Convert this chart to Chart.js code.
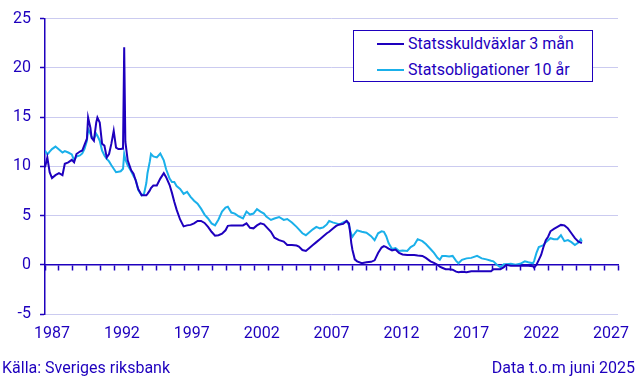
<!DOCTYPE html>
<html><head><meta charset="utf-8">
<script src="https://cdn.jsdelivr.net/npm/chart.js@4.4.1/dist/chart.umd.min.js"></script>
<style>
html,body{margin:0;padding:0;background:#fff;}
#wrap{position:relative;width:644px;height:378px;font-family:Roboto,sans-serif;color:#1E00BE;overflow:hidden;}
#c{position:absolute;left:0;top:0;}
.foot{position:absolute;font-size:16px;line-height:19px;top:358px;white-space:nowrap;}
#legend{position:absolute;left:353px;top:30px;width:238px;height:50px;border:1px solid #1E00BE;background:#fff;}
.row{position:absolute;left:0;height:19px;width:238px;}
.sw{position:absolute;left:23px;width:27px;height:2px;}
.lt{position:absolute;left:54px;top:0;font-size:16px;line-height:19px;white-space:nowrap;}
</style></head>
<body>
<div id="wrap">
<canvas id="c" width="644" height="378"></canvas>
<div id="legend"></div>
<div class="foot" style="left:2px;">Källa: Sveriges riksbank</div>
<div class="foot" style="right:9px;">Data t.o.m juni 2025</div>
</div>
<script>
const dates = ['1987-01','1987-03','1987-05','1987-07','1987-10','1988-01','1988-04','1988-06','1988-09','1988-12',
'1989-02','1989-04','1989-07','1989-09','1989-11','1990-01','1990-02','1990-04','1990-05','1990-07','1990-09','1990-10','1990-12',
'1991-02','1991-04','1991-06','1991-08','1991-10','1991-12','1992-02','1992-04','1992-06','1992-08','1992-09','1992-10','1992-12',
'1993-03','1993-05','1993-07','1993-09','1993-12','1994-02','1994-04','1994-05','1994-07','1994-08','1994-10',
'1995-01','1995-04','1995-07','1995-09','1995-12','1996-02','1996-04','1996-06','1996-09','1996-12',
'1997-03','1997-06','1997-09','1997-12','1998-03','1998-06','1998-09','1998-12','1999-03','1999-06','1999-09','1999-12',
'2000-02','2000-05','2000-08','2000-11','2001-03','2001-06','2001-09','2001-12','2002-03','2002-06','2002-09','2002-11',
'2003-03','2003-06','2003-10','2004-02','2004-05','2004-09','2005-01','2005-03','2005-06','2005-09','2005-12',
'2006-03','2006-06','2006-09','2006-12','2007-03','2007-05','2007-08','2007-11','2008-02','2008-05','2008-08','2008-10','2008-11','2008-12',
'2009-01','2009-03','2009-05','2009-09','2010-01','2010-05','2010-08','2010-11','2011-02','2011-04','2011-06','2011-08','2011-11',
'2012-02','2012-05','2012-08','2012-12','2013-03','2013-06','2013-09','2014-01','2014-04','2014-08','2014-11',
'2015-02','2015-04','2015-06','2015-09','2015-12','2016-03','2016-06','2016-08','2016-11','2017-03','2017-07','2017-12',
'2018-04','2018-08','2018-12','2019-02','2019-05','2019-08','2019-11','2020-01','2020-05','2020-09','2021-01','2021-05','2021-08','2021-12',
'2022-01','2022-03','2022-05','2022-07','2022-09','2022-11','2023-01','2023-03','2023-06','2023-09','2023-12',
'2024-03','2024-06','2024-09','2024-12','2025-03','2025-05','2025-06'];

const tbill3m = [9.9,10.9,9.4,8.8,9.1,9.3,9.1,10.25,10.4,10.65,
10.4,11.25,11.5,11.6,12.2,12.8,14.95,13.9,12.9,12.6,14.45,14.95,14.45,
12.3,12.1,10.9,11.25,12.3,13.6,11.9,11.75,11.75,11.8,22.1,12.5,10.6,
9.6,9.25,8.5,7.7,7.05,7.05,7.05,7.2,7.55,7.8,8.05,
8.05,8.75,9.3,8.9,8.1,7.3,6.4,5.6,4.6,3.9,
4.0,4.05,4.2,4.45,4.45,4.25,3.85,3.35,2.95,3.0,3.15,3.5,
3.95,4.0,4.0,4.0,4.0,4.2,3.75,3.7,4.0,4.2,4.1,3.85,
3.35,2.75,2.5,2.35,2.0,2.0,1.95,1.85,1.5,1.4,1.7,
2.0,2.3,2.6,2.9,3.2,3.35,3.65,3.95,4.1,4.15,4.45,4.2,3.3,2.2,
1.5,0.55,0.35,0.15,0.25,0.3,0.45,1.2,1.75,1.9,1.8,1.65,1.45,
1.55,1.2,1.05,1.0,1.0,1.0,0.95,0.9,0.7,0.35,0.2,
0.0,-0.2,-0.3,-0.45,-0.45,-0.5,-0.7,-0.75,-0.7,-0.75,-0.65,-0.65,
-0.65,-0.65,-0.65,-0.45,-0.45,-0.45,-0.25,0.0,-0.1,-0.1,-0.1,-0.1,-0.1,-0.15,
-0.3,0.0,0.5,1.0,1.8,2.5,2.85,3.4,3.65,3.85,4.05,
4.0,3.7,3.2,2.7,2.35,2.25,2.2];

const bond10y = [11.6,11.2,11.5,11.75,12.0,11.7,11.4,11.55,11.4,11.2,
10.6,11.0,11.1,11.3,11.8,12.6,13.8,13.3,13.0,12.8,13.3,13.1,12.6,
11.6,11.1,10.75,10.5,10.1,9.75,9.4,9.45,9.5,9.75,11.25,10.7,10.1,
9.5,9.0,8.6,7.6,7.05,7.2,8.3,9.3,10.5,11.25,11.0,
10.9,11.3,10.6,9.7,8.75,8.4,8.4,8.0,7.7,7.2,
7.4,6.9,6.5,6.2,5.7,5.1,4.7,4.2,4.0,4.6,5.4,5.8,
5.9,5.3,5.2,4.95,4.7,5.4,5.1,5.2,5.65,5.4,5.2,4.9,
4.55,4.7,4.85,4.55,4.65,4.3,3.85,3.6,3.2,3.0,3.3,
3.6,3.85,3.7,3.8,4.1,4.45,4.3,4.2,4.1,4.3,4.45,4.0,3.5,3.1,
2.85,3.2,3.5,3.35,3.25,2.9,2.5,3.2,3.4,3.35,2.9,2.2,1.6,
1.7,1.4,1.45,1.4,1.8,2.0,2.6,2.4,2.1,1.6,1.2,
0.7,0.5,0.9,0.9,0.85,0.9,0.4,0.15,0.5,0.65,0.7,0.9,
0.65,0.55,0.4,0.35,0.0,-0.25,0.05,0.05,0.1,0.0,0.1,0.35,0.25,0.15,
0.4,1.2,1.8,1.9,2.0,2.3,2.5,2.7,2.6,2.6,3.0,
2.4,2.5,2.3,2.0,2.25,2.6,2.35];

const seriesNames = ['Statsskuldväxlar 3 mån','Statsobligationer 10 år'];
const yTicks = [-5,0,5,10,15,20,25];
const xLabelYears = [1987,1992,1997,2002,2007,2012,2017,2022,2027];

const DARK = '#1E00BE', LIGHT = '#1AB0EA', GRID = '#CBCBF0';
const toYear = s => Number(s.slice(0,4)) + (Number(s.slice(5,7)) - 1) / 12;
const pts = vals => dates.map((d,i) => ({x: toYear(d), y: vals[i]}));
const font = {family: 'Roboto', size: 16};

const chart = new Chart(document.getElementById('c'), {
  type: 'line',
  data: {
    datasets: [
      {label: seriesNames[0], data: pts(tbill3m), borderColor: DARK, backgroundColor: DARK, borderWidth: 2, pointRadius: 0, tension: 0, xAxisID: 'x', yAxisID: 'y'},
      {label: seriesNames[1], data: pts(bond10y), borderColor: LIGHT, backgroundColor: LIGHT, borderWidth: 2, pointRadius: 0, tension: 0, xAxisID: 'x', yAxisID: 'y'}
    ]
  },
  options: {
    responsive: false,
    devicePixelRatio: 1,
    animation: false,
    layout: {padding: {top: 17, right: 26, left: 0, bottom: 0}},
    plugins: {legend: {display: false}, tooltip: {enabled: false}},
    scales: {
      x: {
        type: 'linear', position: {y: 0}, min: 1987, max: 2028,
        ticks: {display: false, stepSize: 1, autoSkip: false},
        grid: {drawOnChartArea: false, drawTicks: true, tickLength: 5, tickColor: DARK, tickWidth: 1.5},
        border: {display: true, color: DARK, width: 1.5}
      },
      xl: {
        type: 'linear', position: 'bottom', min: 1987, max: 2028,
        afterBuildTicks: s => { s.ticks = xLabelYears.map(v => ({value: v})); },
        ticks: {color: DARK, font: font, labelOffset: 7, padding: 10, maxRotation: 0, autoSkip: false, callback: v => String(v)},
        grid: {display: false, drawTicks: false},
        border: {display: false},
        afterFit: s => { s.height = 64; }
      },
      y: {
        type: 'linear', position: 'left', min: -5, max: 25,
        afterBuildTicks: s => { s.ticks = yTicks.map(v => ({value: v})); },
        ticks: {color: DARK, font: font, padding: 9, callback: v => String(v)},
        grid: {color: c => (c.tick && c.tick.value === 0) ? 'rgba(0,0,0,0)' : GRID, lineWidth: 1, tickColor: DARK, tickLength: 5, tickWidth: 1.5},
        border: {display: true, color: DARK, width: 1.5},
        afterFit: s => { s.width = 45; }
      }
    }
  }
});

// HTML legend built from the chart's datasets
const lg = document.getElementById('legend');
chart.data.datasets.forEach((ds, i) => {
  const row = document.createElement('div');
  row.className = 'row';
  row.style.top = (3 + i * 26) + 'px';
  const sw = document.createElement('div');
  sw.className = 'sw';
  sw.style.top = '9px';
  sw.style.background = ds.borderColor;
  const t = document.createElement('div');
  t.className = 'lt';
  t.textContent = ds.label;
  row.appendChild(sw); row.appendChild(t);
  lg.appendChild(row);
});
</script>
</body></html>
